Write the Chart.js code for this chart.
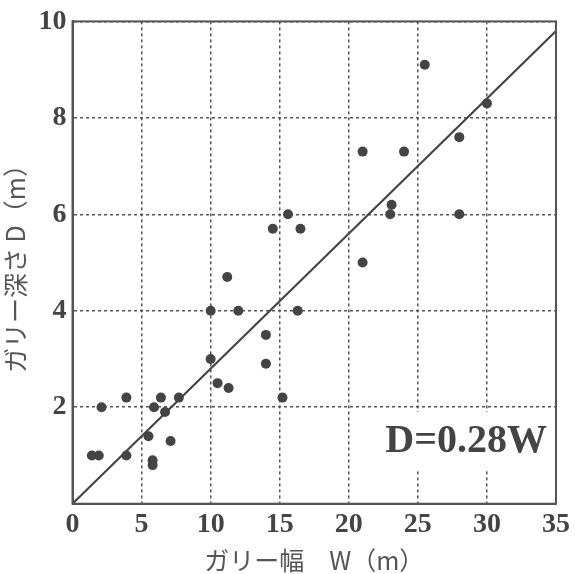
<!DOCTYPE html>
<html><head><meta charset="utf-8">
<script src="https://cdn.jsdelivr.net/npm/chart.js@4"></script>
<style>html,body{margin:0;padding:0;background:#fff}</style>
</head><body>
<canvas id="c" width="576" height="574"></canvas>
<script>
// Data
const gullyWidthW = [1.4, 1.9, 2.1, 3.9, 3.9, 5.5, 5.8, 5.8, 5.9, 6.4, 6.7, 7.1, 7.7,
  10.0, 10.0, 10.5, 11.2, 11.3, 12.0, 14.0, 14.0, 14.5, 15.2, 15.6, 16.3, 16.5,
  21.0, 21.0, 23.0, 23.1, 24.0, 25.5, 28.0, 28.0, 30.0];
const gullyDepthD = [1.0, 1.0, 2.0, 2.2, 1.0, 1.4, 0.9, 0.8, 2.0, 2.2, 1.9, 1.3, 2.2,
  4.0, 3.0, 2.5, 4.7, 2.4, 4.0, 3.5, 2.9, 5.7, 2.2, 6.0, 4.0, 5.7,
  7.3, 5.0, 6.0, 6.2, 7.3, 9.1, 7.6, 6.0, 8.3];
const fitSlope = 0.28;
const fitW = [0, 35];
const xTicks = [0, 5, 10, 15, 20, 25, 30, 35];
const yTicks = [2, 4, 6, 8, 10];
const xTitle = 'ガリー幅　W（m）';
const yTitle = 'ガリー深さ D（m）';
const fitLabel = 'D=0.28W';
const fitLabelPos = {x: 28.5, y: 1.32};

const ink = '#444';
const tickFont = {family: '"Liberation Serif", "Times New Roman", serif', size: 28, weight: 'bold', lineHeight: 1.1};
const titleFont = {family: '"Noto Sans CJK JP", "Noto Sans", sans-serif', size: 25, lineHeight: 1.1};

const framePlugin = {
  id: 'frame',
  afterDatasetsDraw(chart) {
    const {ctx, chartArea: a, scales: {x, y}} = chart;
    ctx.save();
    ctx.font = 'bold 40px "Liberation Serif", "Times New Roman", serif';
    const tw = ctx.measureText(fitLabel).width;
    const cx = x.getPixelForValue(fitLabelPos.x);
    const cy = y.getPixelForValue(fitLabelPos.y);
    ctx.fillStyle = '#fff';
    ctx.fillRect(cx - tw / 2 - 4, cy - 28, tw + 8, 58);
    ctx.fillStyle = ink;
    ctx.textAlign = 'center';
    ctx.textBaseline = 'middle';
    ctx.fillText(fitLabel, cx, cy + 2);
    ctx.strokeStyle = '#555';
    ctx.lineWidth = 2;
    ctx.strokeRect(a.left, a.top, a.right - a.left, a.bottom - a.top);
    ctx.restore();
  }
};

new Chart(document.getElementById('c'), {
  type: 'scatter',
  data: {
    datasets: [
      {
        type: 'line',
        data: fitW.map(w => ({x: w, y: fitSlope * w})),
        borderColor: ink,
        borderWidth: 2.2,
        pointRadius: 0,
        fill: false
      },
      {
        data: gullyWidthW.map((w, i) => ({x: w, y: gullyDepthD[i]})),
        backgroundColor: ink,
        borderColor: ink,
        borderWidth: 0,
        pointRadius: 5
      }
    ]
  },
  options: {
    responsive: false,
    animation: false,
    layout: {padding: {top: 12, right: 19, left: 2, bottom: 0}},
    plugins: {legend: {display: false}, tooltip: {enabled: false}},
    scales: {
      x: {
        type: 'linear', min: 0, max: 35,
        afterBuildTicks: s => { s.ticks = xTicks.map(v => ({value: v})); },
        ticks: {font: tickFont, color: ink, padding: 6, maxRotation: 0},
        grid: {color: '#555', lineWidth: 1.5, drawTicks: false},
        border: {display: true, color: '#555', width: 2, dash: [3, 3]},
        title: {display: true, text: xTitle, font: titleFont, color: '#555', padding: {top: 0, bottom: 0}}
      },
      y: {
        type: 'linear', min: 0, max: 10,
        afterBuildTicks: s => { s.ticks = yTicks.map(v => ({value: v})); },
        ticks: {font: tickFont, color: ink, padding: 6},
        grid: {color: '#555', lineWidth: 1.5, drawTicks: false},
        border: {display: true, color: '#555', width: 2, dash: [3, 3]},
        title: {display: true, text: yTitle, font: titleFont, color: '#555', padding: {top: 0, bottom: 3}}
      }
    }
  },
  plugins: [framePlugin]
});
</script>
</body></html>
